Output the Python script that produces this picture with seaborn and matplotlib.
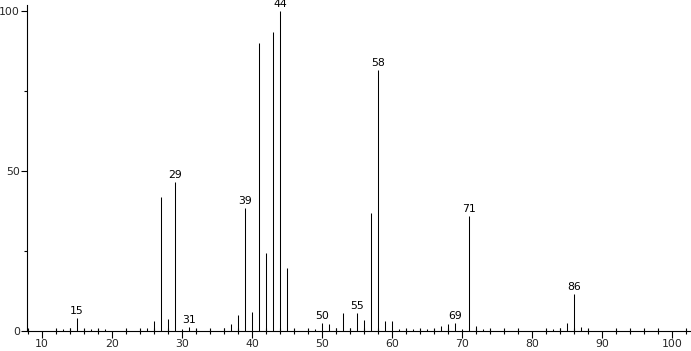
import matplotlib
matplotlib.use("Agg")
import matplotlib.pyplot as plt
import seaborn as sns
import pandas as pd
import numpy as np

# ---- data (m/z, relative intensity) ----
mz = [13, 14, 15, 16, 17, 18, 19, 25, 26, 27, 28, 29, 30, 31, 32,
      36, 37, 38, 39, 40, 41, 42, 43, 44, 45, 46, 49, 50, 51, 52,
      53, 54, 55, 56, 57, 58, 59, 60, 61, 63, 65, 66, 67, 68, 69,
      70, 71, 72, 73, 83, 84, 85, 86, 87]
intensity = [0.7, 1.0, 4.0, 0.7, 0.7, 0.7, 0.5, 0.8, 3.0, 42.0, 3.8, 46.5, 0.6, 1.2, 0.7,
             0.8, 2.2, 5.0, 38.5, 5.8, 90.0, 24.5, 93.5, 100.0, 19.8, 0.6, 0.6, 2.4, 2.3, 0.8,
             5.5, 1.0, 5.6, 3.5, 37.0, 81.5, 3.0, 3.0, 0.6, 0.7, 0.7, 0.6, 1.5, 2.2, 2.6,
             0.7, 36.0, 1.5, 0.5, 0.7, 1.0, 2.6, 11.6, 1.2]
labeled = [15, 29, 31, 39, 44, 50, 55, 58, 69, 71, 86]

x_major = [10, 20, 30, 40, 50, 60, 70, 80, 90, 100]
y_major = [0, 50, 100]
y_minor = [25, 75]

df = pd.DataFrame({"mz": mz, "intensity": intensity})

sns.set_style("white")
plt.rcParams["font.family"] = ["DejaVu Sans"]

fig = plt.figure(figsize=(6.91, 3.51), dpi=100)
ax = fig.add_axes([27 / 691, 20 / 351, 664 / 691, 326 / 351])

sns.barplot(data=df, x="mz", y="intensity", native_scale=True, width=0.02,
            color="black", saturation=1, edgecolor="black", linewidth=0.75, ax=ax)

for m, v in zip(mz, intensity):
    if m in labeled:
        ax.annotate(str(m), xy=(m, v), xytext=(0, 1.5), textcoords="offset points",
                    ha="center", va="bottom", fontsize=7.8, color="black")

ax.set_xlim(7.86, 102.7)
ax.set_ylim(0, 101.9)

ax.set_xticks(x_major)
ax.set_xticks([v for v in range(8, 103, 2) if v % 10 != 0], minor=True)
ax.set_yticks(y_major)
ax.set_yticks(y_minor, minor=True)
ax.set_xticklabels([str(v) for v in x_major], fontsize=7.8)
ax.set_yticklabels([str(v) for v in y_major], fontsize=7.8)

ax.tick_params(axis="x", which="major", direction="out", length=5, width=0.8,
               pad=0.8, color="black", bottom=True)
ax.tick_params(axis="x", which="minor", direction="inout", length=4, width=0.8,
               color="black", bottom=True)
ax.tick_params(axis="y", which="major", direction="out", length=4, width=0.8,
               pad=1, color="black", left=True)
ax.tick_params(axis="y", which="minor", direction="out", length=2.5, width=0.8,
               color="black", left=True)

ax.set_xlabel("")
ax.set_ylabel("")
for s in ["top", "right"]:
    ax.spines[s].set_visible(False)
for s in ["left", "bottom"]:
    ax.spines[s].set_color("black")
    ax.spines[s].set_linewidth(0.8)
ax.grid(False)

fig.savefig("out.png", dpi=100, facecolor="white")
